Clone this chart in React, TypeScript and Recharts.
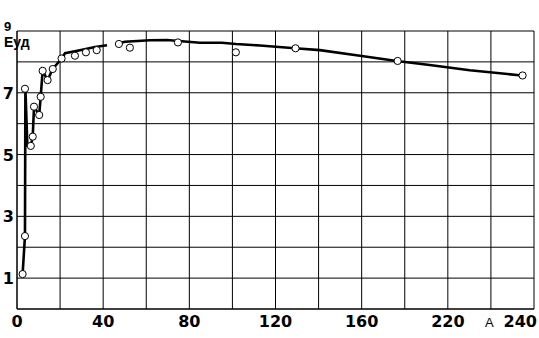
import React from "react";
import { ComposedChart, Line, Scatter, XAxis, YAxis, CartesianGrid } from "recharts";

// Measured points (current A vs specific energy Eуд)
const pointX = [2.6, 3.7, 3.7, 6.4, 7.3, 7.9, 10.3, 11.0, 11.9, 14.2, 16.6, 20.7, 26.9, 32.0, 37.0, 47.3, 52.4, 74.7, 101.6, 129.3, 176.7, 234.7];
const pointY = [1.13, 2.36, 7.13, 5.28, 5.58, 6.55, 6.28, 6.87, 7.71, 7.41, 7.77, 8.11, 8.2, 8.31, 8.38, 8.58, 8.46, 8.63, 8.31, 8.44, 8.03, 7.56];

// Drawn curve through the data
const curveX = [2.6, 3.7, 3.9, 4.8, 6.4, 7.3, 7.9, 10.3, 11.0, 11.9, 14.2, 16.6, 20.7, 22.3, 29.2, 36.2, 41.8, 44.0, 47.3, 50.1, 61.7, 69.6, 84.9, 95.1, 101.6, 112.8, 129.0, 140.6, 159.2, 176.3, 191.6, 210.2, 234.3];
const curveY: (number | null)[] = [1.13, 2.36, 7.14, 5.3, 5.28, 5.58, 6.55, 6.28, 6.87, 7.71, 7.41, 7.77, 8.11, 8.28, 8.38, 8.48, 8.54, null, 8.6, 8.65, 8.7, 8.71, 8.62, 8.62, 8.58, 8.53, 8.44, 8.38, 8.2, 8.03, 7.9, 7.73, 7.56];

const xTicks = [0, 20, 40, 60, 80, 100, 120, 140, 160, 180, 200, 220, 240];
const xTickLabels: Record<number, string> = { 0: "0", 40: "40", 80: "80", 120: "120", 160: "160", 200: "220", 240: "240" };
const yTicks = [0, 1, 2, 3, 4, 5, 6, 7, 8, 9];
const yTickLabels: Record<number, string> = { 1: "1", 3: "3", 5: "5", 7: "7", 9: "9" };
const yAxisTitle = "Еуд";
const xAxisTitle = "А";

const points = pointX.map((x, i) => ({ x, y: pointY[i] }));
const curve = curveX.map((x, i) => ({ x, y: curveY[i] }));

const BIG = "'DejaVu Sans', sans-serif";
const SMALL = "'Liberation Sans', Arial, sans-serif";

const XTick = (props: any) => {
  const v = props.payload.value;
  const label = xTickLabels[v];
  if (!label) return null;
  const isLast = v === 240;
  return (
    <text x={isLast ? props.x + 3 : props.x} y={props.y + 18} textAnchor={isLast ? "end" : "middle"} fontFamily={BIG} fontWeight="bold" fontSize={16} fill="#000">
      {label}
    </text>
  );
};

const YTick = (props: any) => {
  const v = props.payload.value;
  const label = yTickLabels[v];
  if (!label) return null;
  if (v === 9) {
    return (
      <text x={4} y={props.y} textAnchor="start" fontFamily={SMALL} fontWeight="bold" fontSize={13} fill="#000">
        {label}
      </text>
    );
  }
  return (
    <text x={props.x - 3} y={props.y + 6} textAnchor="end" fontFamily={BIG} fontWeight="bold" fontSize={16} fill="#000">
      {label}
    </text>
  );
};

const Dot = (props: any) => (
  <circle cx={props.cx} cy={props.cy} r={3.6} fill="#fff" stroke="#000" strokeWidth={1} />
);

export default function App() {
  return (
    <div style={{ position: "absolute", left: 0, top: 0, background: "#fff" }}>
      <ComposedChart width={539} height={338} margin={{ top: 31, right: 5, left: 0, bottom: 0 }}>
        <CartesianGrid stroke="#000" strokeWidth={1} />
        <XAxis type="number" dataKey="x" domain={[0, 240]} ticks={xTicks} tick={<XTick />} tickLine={false} tickSize={0} tickMargin={0} axisLine={{ stroke: "#000" }} height={29} interval={0} allowDataOverflow />
        <YAxis type="number" dataKey="y" domain={[0, 9]} ticks={yTicks} tick={<YTick />} tickLine={false} tickSize={0} tickMargin={0} axisLine={{ stroke: "#000" }} width={17} interval={0} allowDataOverflow />
        <Line data={curve} dataKey="y" type="linear" stroke="#000" strokeWidth={2.6} dot={false} activeDot={false} connectNulls={false} isAnimationActive={false} />
        <Scatter data={points} dataKey="y" shape={<Dot />} isAnimationActive={false} />
        <text x={4} y={47} fontFamily={SMALL} fontWeight="bold" fontSize={14} fill="#000">{yAxisTitle}</text>
        <text x={485} y={327} fontFamily={SMALL} fontSize={13} fill="#000">{xAxisTitle}</text>
      </ComposedChart>
    </div>
  );
}
